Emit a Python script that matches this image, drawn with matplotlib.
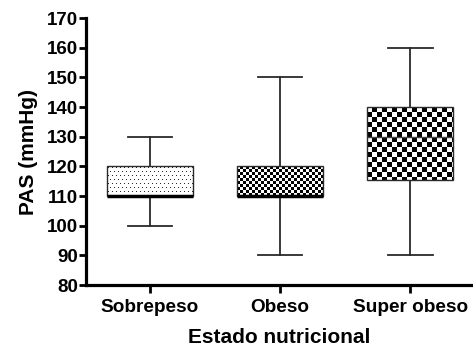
import matplotlib.pyplot as plt
import numpy as np

# box stats
groups = ["Sobrepeso", "Obeso", "Super obeso"]
whislo = [100, 90, 90]
q1 = [110, 110, 115.5]
med = [110, 110, 130]
q3 = [120, 120, 140]
whishi = [130, 150, 160]
yticks = list(range(80, 171, 10))

plt.rcParams['font.family'] = ['Liberation Sans', 'DejaVu Sans']
plt.rcParams['font.weight'] = 'bold'


def checker(h, w, cell):
    yy, xx = np.mgrid[0:h, 0:w]
    return ((xx // cell + yy // cell) % 2).astype(float)


def dots(h, w, step):
    yy, xx = np.mgrid[0:h, 0:w]
    off = (yy // step) % 2 * (step // 2)
    m = ((yy % step) == 1) & (((xx + off) % step) == 1)
    return np.where(m, 0.85, 0.0)


fig = plt.figure(figsize=(4.73, 3.48), dpi=100)
ax = fig.add_axes([0.182, 0.181, 0.818, 0.767])

stats = []
for g, a, b, c, d, e in zip(groups, whislo, q1, med, q3, whishi):
    stats.append(dict(label=g, whislo=a, q1=b, med=c, q3=d, whishi=e))

bp = ax.bxp(stats, positions=[0, 1, 2], widths=0.66, capwidths=0.34,
            patch_artist=True, showfliers=False,
            boxprops=dict(facecolor='none', edgecolor='#2a2a2a', linewidth=1.0),
            whiskerprops=dict(color='#2a2a2a', linewidth=1.3),
            capprops=dict(color='#2a2a2a', linewidth=1.3),
            medianprops=dict(color='black', linewidth=2.5))
for p in bp['boxes']:
    p.set_zorder(3)
for ln in bp['medians']:
    ln.set_zorder(4)
bp['medians'][2].set_linewidth(1.0)
bp['medians'][2].set_color('#444444')

ax.set_xlim(-0.49, 2.48)
ax.set_ylim(80, 170)

# fill patterns
fig.canvas.draw()
for i, p in enumerate(bp['boxes']):
    x0, x1 = i - 0.33, i + 0.33
    (px0, py0), (px1, py1) = ax.transData.transform([(x0, q1[i]), (x1, q3[i])])
    w, h = int(round(px1 - px0)), int(round(py1 - py0))
    if i == 0:
        arr = dots(h, w, 4)
    elif i == 1:
        arr = checker(h, w, 3)
    else:
        arr = checker(h, w, 5)
    im = ax.imshow(arr, cmap='gray_r', vmin=0, vmax=1, extent=(x0, x1, q1[i], q3[i]),
                   aspect='auto', interpolation='nearest', zorder=2)
    im.set_clip_path(p)

ax.set_xlim(-0.49, 2.48)
ax.set_ylim(80, 170)

ax.set_yticks(yticks)
ax.set_xticks([0, 1, 2])
ax.set_xticklabels(groups)
ax.spines['top'].set_visible(False)
ax.spines['right'].set_visible(False)
ax.spines['left'].set_linewidth(2.3)
ax.spines['bottom'].set_linewidth(2.3)
ax.tick_params(axis='y', length=5, width=2, labelsize=13.5, pad=1)
ax.tick_params(axis='x', length=6, width=2, labelsize=13.7, pad=4)
ax.set_ylabel("PAS (mmHg)", fontsize=15, fontweight='bold', labelpad=6)
ax.set_xlabel("Estado nutricional", fontsize=15, fontweight='bold', labelpad=9)

fig.savefig("out.png", dpi=100)
